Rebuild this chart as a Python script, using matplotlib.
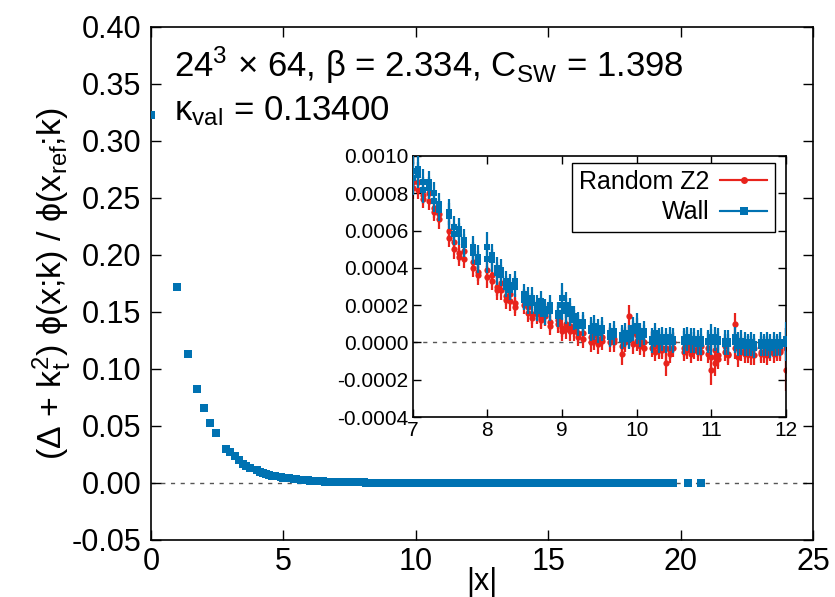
import numpy as np
import matplotlib
matplotlib.use("Agg")
import matplotlib.pyplot as plt
from matplotlib.legend_handler import HandlerErrorbar
from matplotlib.container import ErrorbarContainer

plt.rcParams['font.family'] = ['Liberation Sans', 'DejaVu Sans']
plt.rcParams['mathtext.fontset'] = 'custom'
plt.rcParams['mathtext.rm'] = 'Liberation Sans'
plt.rcParams['mathtext.it'] = 'Liberation Sans'
plt.rcParams['mathtext.bf'] = 'Liberation Sans:bold'
plt.rcParams['axes.unicode_minus'] = False

# squared lattice distances |x|^2 and values, short range (main plot only)
r2_short = [0, 1, 2, 3, 4, 5, 6, 8, 9, 10,
            11, 12, 13, 14, 16, 17, 18, 19, 20, 21,
            22, 24, 25, 26, 27, 29, 30, 32, 33, 34,
            35, 36, 37, 38, 40, 41, 42, 43, 44, 45,
            46, 48]
y_short = [0.323, 0.172, 0.113, 0.0825, 0.066, 0.0526, 0.0435, 0.0298, 0.0270, 0.0237,
           0.0200, 0.0167, 0.0150, 0.0132, 0.0114, 0.0100, 0.0088, 0.0080, 0.0072, 0.0065,
           0.0060, 0.0050, 0.0047, 0.0043, 0.0040, 0.0035, 0.0032, 0.0028, 0.0026, 0.0024,
           0.0022, 0.0021, 0.0019, 0.0018, 0.0016, 0.0015, 0.0014, 0.0013, 0.0012, 0.0011,
           0.00105, 0.00095]

# inset range 7 <= |x| <= 12 (values in units of 1e-4), two lattice directions per distance
r2_mid = [49, 50, 51, 52, 53, 54, 56, 57, 58, 59,
          61, 62, 64, 65, 66, 67, 68, 69, 70, 72,
          73, 74, 75, 76, 77, 78, 80, 81, 82, 83,
          84, 85, 86, 88, 89, 90, 91, 93, 94, 96,
          97, 98, 99, 100, 101, 102, 104, 105, 106, 107,
          108, 109, 110, 113, 114, 115, 116, 117, 118, 120,
          121, 122, 123, 125, 126, 128, 129, 130, 131, 132,
          133, 134, 136, 137, 138, 139, 140, 141, 142, 144]
wall_mid = [9.2, 9.0, 8.6, 8.3, 8.0, 7.4, 6.8, 6.2, 5.8, 5.5,
            4.8, 4.6, 5.1, 4.4, 4.0, 3.6, 3.3, 3.1, 3.0, 2.3,
            2.4, 2.1, 2.0, 1.9, 1.8, 1.7, 1.6, 2.4, 2.0, 1.8,
            1.2, 1.1, 0.9, 0.8, 0.7, 0.7, 0.6, 0.5, 0.4, 0.4,
            0.3, 0.4, 0.6, 0.9, 0.5, 0.4, 0.2, 0.3, 0.2, 0.1,
            0.2, 0.1, 0.0, 0.2, 0.1, 0.2, 0.0, 0.1, -0.1, 0.0,
            0.3, 0.1, 0.0, 0.1, -0.1, 0.0, -0.2, -0.1, -0.2, -0.1,
            -0.2, -0.1, -0.2, -0.1, -0.2, -0.1, -0.2, -0.1, -0.2, 0.2]
wall_mid_b = [8.8, 9.3, 8.2, 8.6, 7.6, 7.1, 7.0, 5.8, 6.1, 5.2,
              5.1, 4.3, 4.5, 4.7, 3.7, 3.9, 3.0, 2.8, 3.3, 2.6,
              2.1, 2.4, 1.7, 2.2, 1.5, 2.0, 1.4, 2.0, 1.7, 1.5,
              1.4, 0.9, 1.1, 0.6, 0.9, 0.5, 0.8, 0.3, 0.6, 0.2,
              0.5, 0.2, 0.8, 0.6, 0.3, 0.6, 0.0, 0.5, 0.0, 0.3,
              0.0, 0.3, 0.2, 0.0, 0.3, 0.0, 0.2, -0.1, 0.2, 0.1,
              0.0, 0.3, 0.2, -0.1, 0.1, 0.3, 0.0, 0.1, 0.0, -0.2,
              0.0, -0.3, 0.0, -0.2, 0.0, -0.3, 0.0, -0.2, 0.0, -0.1]
wall_err = [0.9, 0.7, 0.7, 0.6, 0.6, 0.6, 0.7, 0.6, 0.6, 0.6,
            0.6, 0.6, 0.8, 0.6, 0.6, 0.55, 0.55, 0.55, 0.55, 0.55,
            0.55, 0.55, 0.55, 0.55, 0.55, 0.55, 0.55, 0.8, 0.7, 0.6,
            0.55, 0.55, 0.55, 0.55, 0.55, 0.55, 0.55, 0.55, 0.55, 0.55,
            0.55, 0.55, 0.55, 0.7, 0.55, 0.55, 0.55, 0.55, 0.55, 0.55,
            0.55, 0.55, 0.55, 0.6, 0.55, 0.55, 0.55, 0.55, 0.55, 0.55,
            0.7, 0.55, 0.55, 0.55, 0.55, 0.55, 0.55, 0.55, 0.55, 0.55,
            0.55, 0.55, 0.55, 0.55, 0.55, 0.55, 0.55, 0.55, 0.55, 0.9]
z2_mid = [8.6, 8.2, 7.9, 7.6, 7.2, 6.6, 6.0, 5.0, 4.8, 4.5,
          4.0, 3.6, 3.9, 3.3, 3.0, 2.8, 2.5, 2.2, 2.1, 2.0,
          1.6, 1.5, 1.5, 1.3, 1.4, 1.1, 1.0, 0.8, 0.7, 0.9,
          0.6, 0.5, 0.2, 0.3, 0.1, 0.2, 0.1, 0.3, 0.0, -0.6,
          0.2, 1.4, 0.5, 0.1, -0.2, 0.0, -0.3, -0.2, -0.4, -0.3,
          -1.1, -0.4, -0.3, -0.3, -0.4, -0.2, -0.4, -0.3, -0.5, -0.3,
          -1.5, -1.1, -0.7, -0.5, -0.6, 1.0, -0.3, -0.5, -0.4, -0.6,
          -0.4, -0.7, -0.5, -0.6, -0.4, -0.5, -0.4, -0.5, -0.4, -1.5]
z2_mid_b = [8.3, 8.6, 7.7, 8.0, 7.0, 6.9, 5.6, 5.4, 4.6, 4.9,
            4.3, 3.8, 3.5, 3.6, 2.8, 3.2, 2.3, 2.6, 1.9, 2.3,
            1.9, 1.3, 1.7, 1.2, 1.6, 0.9, 1.2, 0.6, 1.0, 0.6,
            0.8, 0.3, 0.5, 0.0, 0.4, -0.1, 0.3, 0.0, 0.2, -0.2,
            0.0, 0.3, -0.1, 0.4, 0.0, -0.3, 0.1, -0.5, -0.1, -0.4,
            -0.3, -0.6, 0.0, -0.5, -0.2, -0.6, -0.1, -0.5, -0.2, -0.6,
            -0.8, -0.4, -0.9, -0.2, -0.7, -0.3, -0.8, -0.2, -0.6, -0.3,
            -0.7, -0.3, -0.6, -0.2, -0.7, -0.3, -0.6, -0.3, -0.5, -0.3]
z2_err = [0.6, 0.5, 0.5, 0.5, 0.5, 0.5, 0.5, 0.5, 0.5, 0.5,
          0.5, 0.5, 0.6, 0.5, 0.5, 0.5, 0.5, 0.5, 0.5, 0.5,
          0.5, 0.5, 0.5, 0.5, 0.5, 0.5, 0.5, 0.5, 0.5, 0.5,
          0.5, 0.5, 0.5, 0.5, 0.5, 0.5, 0.5, 0.5, 0.5, 0.6,
          0.5, 0.6, 0.5, 0.55, 0.5, 0.5, 0.5, 0.5, 0.5, 0.5,
          0.7, 0.5, 0.5, 0.5, 0.5, 0.5, 0.5, 0.5, 0.5, 0.5,
          0.8, 0.7, 0.55, 0.5, 0.5, 0.6, 0.5, 0.5, 0.5, 0.5,
          0.5, 0.5, 0.5, 0.5, 0.5, 0.5, 0.5, 0.5, 0.5, 1.1]

# long range tail (main plot only, values in units of 1e-4)
r2_tail = [146, 150, 153, 157, 161, 164, 168, 171, 174, 178,
           182, 185, 189, 193, 197, 201, 205, 209, 213, 217,
           221, 225, 229, 233, 237, 241, 245, 250, 254, 258,
           262, 266, 270, 274, 278, 282, 286, 290, 294, 298,
           302, 306, 310, 314, 318, 322, 326, 330, 334, 338,
           342, 346, 350, 354, 358, 362, 366, 370, 374, 377,
           388, 411, 432]
wall_tail = [-0.1, -0.2, 0.1, -0.1, 0.0, -0.2, -0.1, 0.1, -0.1, 0.0,
             -0.1, 0.0, -0.2, 0.1, -0.1, 0.0, -0.1, 0.1, 0.0, -0.1,
             0.0, 0.1, -0.1, 0.0, 0.1, -0.1, 0.0, -0.1, 0.1, 0.0,
             -0.1, 0.0, 0.1, -0.1, 0.0, 0.1, 0.0, -0.1, 0.0, 0.1,
             0.0, -0.1, 0.1, 0.0, -0.1, 0.0, 0.1, 0.0, -0.1, 0.0,
             0.1, 0.0, -0.1, 0.0, 0.1, -0.1, 0.0, 0.1, 0.0, -0.1,
             0.0, 0.1, 0.0]

blue = '#0072b2'
red = '#e8231c'

x_short = np.sqrt(r2_short)
x_mid = np.sqrt(r2_mid)
x_tail = np.sqrt(r2_tail)
scale = 1e-4

fig = plt.figure(figsize=(8.35, 5.97), dpi=100)

# main plot
ax = fig.add_axes([0.1808, 0.0955, 0.7928, 0.8593])
ax.axhline(0, color='#555555', lw=1.0, ls=(0, (3, 4)), zorder=1)
x_all = np.concatenate([x_short, x_mid, x_mid, x_tail])
y_all = np.concatenate([y_short, np.array(wall_mid) * scale, np.array(wall_mid_b) * scale,
                        np.array(wall_tail) * scale])
ax.plot(x_all, y_all, ls='none', marker='s', ms=6.3, color=blue, mew=0, zorder=3)
ax.set_xlim(0, 25)
ax.set_ylim(-0.05, 0.40)
ax.set_xticks(np.arange(0, 26, 5))
ax.set_yticks(np.arange(-0.05, 0.401, 0.05))
ax.yaxis.set_major_formatter(matplotlib.ticker.FormatStrFormatter('%.2f'))
ax.tick_params(direction='in', length=7, width=1, labelsize=22, top=True, right=True)
ax.tick_params(axis='x', pad=5)
ax.tick_params(axis='y', pad=7)
for s in ax.spines.values():
    s.set_linewidth(1.2)
ax.set_xlabel('|x|', fontsize=22, labelpad=-7)
ax.set_ylabel('(Δ + k$_{t}^{2}$) ϕ(x;k) / ϕ(x$_{ref}$;k)', fontsize=24.5, labelpad=-2)

ax.text(0.035, 0.925, '24$^{3}$ × 64, β = 2.334, C$_{SW}$ = 1.398',
        transform=ax.transAxes, fontsize=25, va='center', ha='left')
ax.text(0.035, 0.835, 'κ$_{val}$ = 0.13400',
        transform=ax.transAxes, fontsize=25, va='center', ha='left')

# inset
ins = fig.add_axes([0.4943, 0.3015, 0.4471, 0.4372])
ins.axhline(0, color='#555555', lw=1.0, ls=(0, (3, 4)), zorder=1)
ebkw = dict(ls='none', elinewidth=1.6, capsize=3, capthick=1.6, mew=0)
for yv in (z2_mid, z2_mid_b):
    ins.errorbar(x_mid, np.array(yv) * scale, yerr=np.array(z2_err) * scale, marker='o',
                 ms=4.5, color=red, ecolor=red, zorder=2, **ebkw)
for yv in (wall_mid, wall_mid_b):
    ins.errorbar(x_mid, np.array(yv) * scale, yerr=np.array(wall_err) * scale, marker='s',
                 ms=4.8, color=blue, ecolor=blue, zorder=3, **ebkw)
ins.set_xlim(7, 12)
ins.set_ylim(-0.0004, 0.0010)
ins.set_xticks(np.arange(7, 13, 1))
ins.set_yticks(np.arange(-0.0004, 0.00101, 0.0002))
ins.yaxis.set_major_formatter(matplotlib.ticker.FormatStrFormatter('%.4f'))
ins.tick_params(direction='in', length=6, width=1, labelsize=15, top=True, right=True, pad=3)
for s in ins.spines.values():
    s.set_linewidth(1.2)

# legend samples drawn gnuplot style (horizontal bar with caps)
h1 = ins.errorbar([np.nan], [np.nan], xerr=[np.nan], ls='-', marker='o', ms=5, color=red,
                  elinewidth=1.5, capsize=3, capthick=1.5, mew=0)
h2 = ins.errorbar([np.nan], [np.nan], xerr=[np.nan], ls='-', marker='s', ms=5.5, color=blue,
                  elinewidth=1.5, capsize=3, capthick=1.5, mew=0)
leg = ins.legend([h1, h2], ['Random Z2', 'Wall'], loc='upper right', fontsize=18,
                 markerfirst=False, fancybox=False, framealpha=1, edgecolor='black',
                 handlelength=1.9, borderpad=0.3, labelspacing=0.25, handletextpad=0.4,
                 borderaxespad=0, bbox_to_anchor=(0.97, 0.975),
                 handler_map={ErrorbarContainer: HandlerErrorbar(xerr_size=0.94)})
leg.get_frame().set_linewidth(1.0)
leg._legend_box.align = 'right'

fig.savefig('out.png', dpi=100)
